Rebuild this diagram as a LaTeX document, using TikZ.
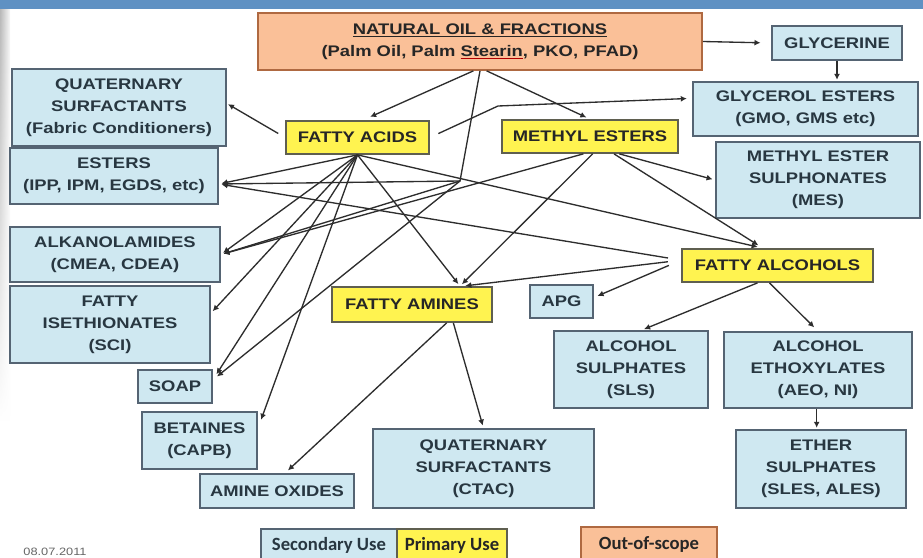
\documentclass[tikz,border=0pt]{standalone}
\usepackage{fontspec}
\newfontfamily\bx[FakeStretch=1.2]{Liberation Sans}
\newfontfamily\legfont{Carlito}
\usetikzlibrary{arrows.meta,fadings}
\definecolor{bandblue}{RGB}{95,145,195}
\definecolor{lblue}{RGB}{207,232,241}
\definecolor{lblueD}{RGB}{85,100,115}
\definecolor{ylw}{RGB}{255,243,80}
\definecolor{ylwD}{RGB}{95,95,80}
\definecolor{org}{RGB}{250,192,152}
\definecolor{orgD}{RGB}{175,105,65}
\definecolor{txt}{RGB}{40,55,65}
\definecolor{lnc}{RGB}{45,45,45}
\tikzset{
  base/.style={draw, line width=1.3pt, inner sep=0pt, align=center,
    font=\bx\bfseries\fontsize{11.5}{16.5}\selectfont},
  sbox/.style={base, fill=lblue, draw=lblueD, text=txt},
  pbox/.style={base, fill=ylw, draw=ylwD, text=black!85},
  obox/.style={base, fill=org, draw=orgD, text=black!85},
  legbox/.style={draw, line width=1.1pt, inner sep=0pt, align=center,
    font=\legfont\bfseries\fontsize{14}{16}\selectfont},
  conn/.style={draw=lnc, line width=1pt, -{Latex[length=4.5pt,width=4.5pt]}, shorten >=2pt},
}
\begin{document}
\begin{tikzpicture}[x=0.75pt,y=-0.75pt]
\useasboundingbox (0,0) rectangle (923,557);
\fill[white] (0,0) rectangle (923,557);
% header band and left edge
\fill[bandblue] (0,0) rectangle (923,9);
\shade[left color=gray!55, right color=gray!5, path fading=south] (0,9) rectangle (10,420);

% nodes
\node[obox, minimum width=333pt, minimum height=42.75pt] (nat) at (480,41.5)
  {\underline{NATURAL OIL \& FRACTIONS}\\(Palm Oil, Palm {\color{red!70!black}\underline{\color{black!85}Stearin}}, PKO, PFAD)};
\node[sbox, minimum width=97.5pt, minimum height=25.5pt] (glyc) at (837,43) {GLYCERINE};
\node[sbox, minimum width=168.75pt, minimum height=40.5pt] (gest) at (805.5,109) {GLYCEROL ESTERS\\(GMO, GMS etc)};
\node[sbox, minimum width=153pt, minimum height=57pt] (mes) at (818,180) {METHYL ESTER\\SULPHONATES\\(MES)};
\node[sbox, minimum width=160.5pt, minimum height=57.75pt] (qfab) at (119,107.5) {QUATERNARY\\SURFACTANTS\\(Fabric Conditioners)};
\node[sbox, minimum width=156pt, minimum height=42pt] (est) at (114,176) {ESTERS\\(IPP, IPM, EGDS, etc)};
\node[sbox, minimum width=157.5pt, minimum height=41.25pt] (alk) at (115,254.5) {ALKANOLAMIDES\\(CMEA, CDEA)};
\node[sbox, minimum width=150pt, minimum height=57.75pt] (fis) at (110,324.5) {FATTY\\ISETHIONATES\\(SCI)};
\node[sbox, minimum width=55.5pt, minimum height=24.75pt] (soap) at (175,386.5) {SOAP};
\node[sbox, minimum width=86.25pt, minimum height=42.75pt] (bet) at (199.5,440.5) {BETAINES\\(CAPB)};
\node[sbox, minimum width=115.5pt, minimum height=25.5pt] (aox) at (277,491) {AMINE OXIDES};
\node[sbox, minimum width=165.75pt, minimum height=59.25pt] (qctac) at (483.5,468.5) {QUATERNARY\\SURFACTANTS\\(CTAC)};
\node[pbox, minimum width=107.25pt, minimum height=24.75pt] (facid) at (357.5,137.5) {FATTY ACIDS};
\node[pbox, minimum width=132pt, minimum height=24.75pt] (mest) at (590,136.5) {METHYL ESTERS};
\node[pbox, minimum width=120pt, minimum height=26.25pt] (famine) at (412,304.5) {FATTY AMINES};
\node[sbox, minimum width=47.25pt, minimum height=24.75pt] (apg) at (561.5,301.5) {APG};
\node[pbox, minimum width=143.25pt, minimum height=24.75pt] (falc) at (777.5,265.5) {FATTY ALCOHOLS};
\node[sbox, minimum width=115.5pt, minimum height=57.75pt] (asul) at (631,369.5) {ALCOHOL\\SULPHATES\\(SLS)};
\node[sbox, minimum width=141pt, minimum height=57pt] (aeth) at (818,370) {ALCOHOL\\ETHOXYLATES\\(AEO, NI)};
\node[sbox, minimum width=127.5pt, minimum height=58.5pt] (esul) at (821,469) {ETHER\\SULPHATES\\(SLES, ALES)};

% legend
\node[legbox, fill=lblue, draw=lblueD, text=txt, minimum width=102pt, minimum height=24pt] (sec) at (329,545) {Secondary Use};
\node[legbox, fill=ylw, draw=ylwD, text=black!85, minimum width=82.5pt, minimum height=24pt] (pri) at (452,545) {Primary Use};
\node[legbox, fill=org, draw=orgD, text=black!85, minimum width=102pt, minimum height=25.5pt] (oos) at (649,544) {Out-of-scope};
\node[font=\bx\fontsize{8}{9}\selectfont, text=gray!80!black, inner sep=0pt] (date) at (55,552) {08.07.2011};

% junction points
\coordinate (k1) at (460,181);
\coordinate (k2) at (498,106);

% natural oil
\draw[conn, shorten >=6pt] ([xshift=-5pt]nat.south) -- ([xshift=4pt]facid.north);
\draw[conn, shorten >=3pt] ([xshift=5pt]nat.south) -- (mest.north);
\draw[conn] (nat.south) -- (k1) -- ([yshift=-6pt]est.east);
\draw[conn] (k1) -- (alk.east);
\draw[conn, shorten >=4pt] (k1) -- ([yshift=5pt]soap.east);
\draw[conn, shorten >=8pt] (nat.east) -- (glyc.west);
\draw[conn, shorten >=1pt] (glyc.south) -- (glyc.south |- gest.north);

% fatty acids
\draw[conn, shorten <=6pt, shorten >=1pt] (facid.west) -- ([yshift=3pt]qfab.east);
\draw[conn, shorten <=7pt, shorten >=4pt] (facid.east) -- (k2) -- ([yshift=8pt]gest.west);
\draw[conn] (facid.south) -- ([yshift=-6pt]est.east);
\draw[conn] (facid.south) -- (alk.east);
\draw[conn] (facid.south) -- ([yshift=8.5pt]fis.east);
\draw[conn, shorten >=5pt] (facid.south) -- ([yshift=5pt]soap.east);
\draw[conn, shorten >=7pt] (facid.south) -- ([yshift=9pt]bet.east);
\draw[conn] (facid.south) -- ([xshift=36pt]famine.north);
\draw[conn, shorten >=4pt] (facid.south) -- ([xshift=-11pt]falc.north);

% methyl esters
\draw[conn] ([xshift=22pt]mest.south) -- (mes.west);
\draw[conn, shorten >=4pt] ([xshift=18pt]mest.south) -- ([xshift=-11pt]falc.north);
\draw[conn] ([xshift=2pt]mest.south) -- ([xshift=36pt]famine.north);
\draw[conn] ([xshift=-5pt]mest.south) -- (alk.east);

% fatty alcohols
\draw[conn, shorten <=10pt] ([yshift=4pt]falc.west) -- ([yshift=-6pt]est.east);
\draw[conn, shorten <=10pt] ([yshift=4pt]falc.west) -- ([xshift=38pt]famine.north);
\draw[conn, shorten <=10pt, shorten >=3pt] ([yshift=4pt]falc.west) -- ([yshift=3pt]apg.east);
\draw[conn] ([xshift=-15pt]falc.south) -- ([xshift=8pt]asul.north);
\draw[conn, shorten >=4pt] ([xshift=-6pt]falc.south) -- (aeth.north);
\draw[conn, shorten >=1pt] ([xshift=-1pt]aeth.south) -- ([xshift=-1pt]aeth.south |- esul.north);

% fatty amines
\draw[conn, shorten >=3pt] ([xshift=26pt]famine.south) -- ([xshift=6pt]aox.north);
\draw[conn] ([xshift=31pt]famine.south) -- (qctac.north);
\end{tikzpicture}
\end{document}
